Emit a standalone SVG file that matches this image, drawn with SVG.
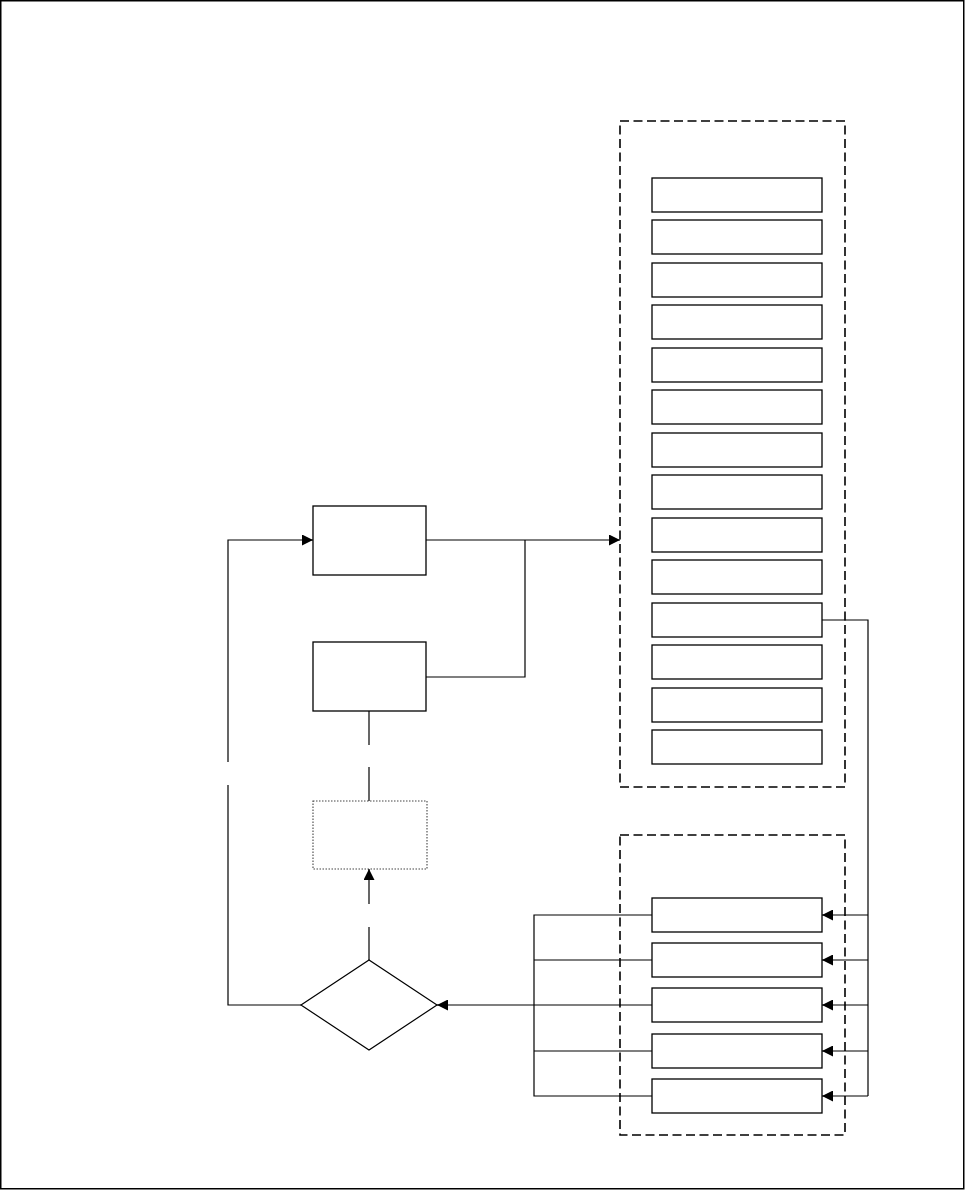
<svg xmlns="http://www.w3.org/2000/svg" width="965" height="1190" viewBox="0 0 965 1190">
<style>
.frame{fill:none;stroke:#000;stroke-width:1.5}
.box{fill:#fff;stroke:#000;stroke-width:1.3}
.group{fill:none;stroke:#000;stroke-width:1.6;stroke-dasharray:9 4.5}
.dotted{fill:#fff;stroke:#444;stroke-width:1.1;stroke-dasharray:1.5 1.5}
.line{fill:none;stroke:#000;stroke-width:1.2}
</style>
<defs>
<marker id="arr" viewBox="0 0 10 10" refX="10" refY="5" markerWidth="11" markerHeight="11" markerUnits="userSpaceOnUse" orient="auto">
<path d="M0,0 L10,5 L0,10 z" fill="#000"/>
</marker>
</defs>
<rect width="965" height="1190" fill="#fff"/>
<rect class="frame" x="0.75" y="0.75" width="963" height="1188"/>
<g id="groupTop"><rect class="group" x="620" y="121" width="225" height="666"/></g>
<g id="groupBottom"><rect class="group" x="620" y="835" width="225" height="300"/></g>
<g id="listTop">
<rect class="box" x="652" y="178" width="170" height="34"/>
<rect class="box" x="652" y="220" width="170" height="34"/>
<rect class="box" x="652" y="263" width="170" height="34"/>
<rect class="box" x="652" y="305" width="170" height="34"/>
<rect class="box" x="652" y="348" width="170" height="34"/>
<rect class="box" x="652" y="390" width="170" height="34"/>
<rect class="box" x="652" y="433" width="170" height="34"/>
<rect class="box" x="652" y="475" width="170" height="34"/>
<rect class="box" x="652" y="518" width="170" height="34"/>
<rect class="box" x="652" y="560" width="170" height="34"/>
<rect class="box" x="652" y="603" width="170" height="34"/>
<rect class="box" x="652" y="645" width="170" height="34"/>
<rect class="box" x="652" y="688" width="170" height="34"/>
<rect class="box" x="652" y="730" width="170" height="34"/>
</g>
<g id="listBottom">
<rect class="box" x="652" y="898" width="170" height="34"/>
<rect class="box" x="652" y="943" width="170" height="34"/>
<rect class="box" x="652" y="988" width="170" height="34"/>
<rect class="box" x="652" y="1034" width="170" height="34"/>
<rect class="box" x="652" y="1079" width="170" height="34"/>
</g>
<g id="nodeA"><rect class="box" x="313" y="506" width="113" height="69"/></g>
<g id="nodeB"><rect class="box" x="313" y="642" width="113" height="69"/></g>
<g id="nodeC"><rect class="dotted" x="313" y="801" width="114" height="68"/></g>
<g id="decision"><polygon class="line" points="301,1005 369,960 437,1005 369,1050" fill="#fff"/></g>
<g id="connectors">
<path class="line" d="M426,540 H620" marker-end="url(#arr)"/>
<path class="line" d="M426,677 H525 V540"/>
<path class="line" d="M301,1005 H228 V785"/>
<path class="line" d="M228,762 V540 H313" marker-end="url(#arr)"/>
<path class="line" d="M369,711 V745"/>
<path class="line" d="M369,767 V801"/>
<path class="line" d="M369,960 V927"/>
<path class="line" d="M369,904 V869" marker-end="url(#arr)"/>
<path class="line" d="M652,1005 H437" marker-end="url(#arr)"/>
<path class="line" d="M652,915 H534 V1096 H652"/>
<path class="line" d="M652,960 H534"/>
<path class="line" d="M652,1051 H534"/>
<path class="line" d="M822,620 H868 V1096"/>
<path class="line" d="M868,915 H822" marker-end="url(#arr)"/>
<path class="line" d="M868,960 H822" marker-end="url(#arr)"/>
<path class="line" d="M868,1005 H822" marker-end="url(#arr)"/>
<path class="line" d="M868,1051 H822" marker-end="url(#arr)"/>
<path class="line" d="M868,1096 H822" marker-end="url(#arr)"/>
</g>
</svg>
